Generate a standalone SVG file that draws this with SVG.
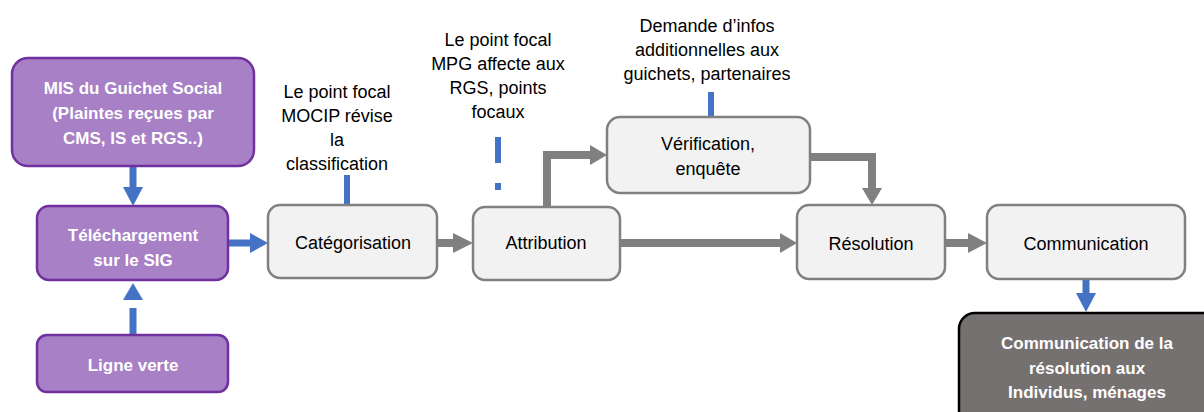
<svg xmlns="http://www.w3.org/2000/svg" width="1204" height="412" viewBox="0 0 1204 412">
<style>
.pbox{fill:#A780C5;stroke:#7030A0;stroke-width:2.5}
.gbox{fill:#F2F2F2;stroke:#808080;stroke-width:2.5}
.dbox{fill:#767171;stroke:#000;stroke-width:2.5}
.wt{font-family:"Liberation Sans",Arial,sans-serif;font-weight:bold;font-size:17px;fill:#fff;text-anchor:middle}
.bt{font-family:"Liberation Sans",Arial,sans-serif;font-size:18px;fill:#000;text-anchor:middle}
.lt{font-family:"Liberation Sans",Arial,sans-serif;font-size:17px;fill:#000;text-anchor:middle}
.bl{stroke:#4472C4;stroke-width:7;fill:none}
.blh{fill:#4472C4}
.gl{stroke:#808080;stroke-width:8;fill:none}
.glh{fill:#808080}
</style>
<rect width="1204" height="412" fill="#fff"/>
<g id="connectors">
<line class="bl" x1="133" y1="166" x2="133" y2="189"/>
<polygon class="blh" points="123,187 143,187 133,206"/>
<line class="bl" x1="133" y1="335" x2="133" y2="308"/>
<polygon class="blh" points="123,300 143,300 133,283"/>
<line class="bl" x1="228" y1="243" x2="252" y2="243"/>
<polygon class="blh" points="250,233 250,253 268,243"/>
<line class="bl" x1="347" y1="175" x2="347" y2="205" style="stroke-width:6"/>
<rect class="blh" x="495" y="137" width="6" height="26"/>
<rect class="blh" x="495" y="183" width="6" height="7"/>
<line class="bl" x1="711" y1="92" x2="711" y2="117" style="stroke-width:6"/>
<line class="bl" x1="1086" y1="279" x2="1086" y2="295"/>
<polygon class="blh" points="1076,293 1096,293 1086,312"/>
<line class="gl" x1="437" y1="243" x2="455" y2="243"/>
<polygon class="glh" points="453,233 453,253 473,243"/>
<path class="gl" d="M547 207 V155 H592"/>
<polygon class="glh" points="590,145 590,165 607,155"/>
<line class="gl" x1="620" y1="243" x2="782" y2="243"/>
<polygon class="glh" points="780,233 780,253 797,243"/>
<path class="gl" d="M810 157 H872 V190"/>
<polygon class="glh" points="862,188 882,188 872,205"/>
<line class="gl" x1="945" y1="243" x2="970" y2="243"/>
<polygon class="glh" points="968,233 968,253 987,243"/>
</g>
<g id="mis">
<rect class="pbox" x="12" y="58" width="242" height="108" rx="16"/>
<text class="wt" x="133" y="94">MIS du Guichet Social</text>
<text class="wt" x="133" y="119">(Plaintes reçues par</text>
<text class="wt" x="133" y="144">CMS, IS et RGS..)</text>
</g>
<g id="telechargement">
<rect class="pbox" x="37" y="206" width="191" height="74" rx="12"/>
<text class="wt" x="133" y="241">Téléchargement</text>
<text class="wt" x="133" y="266">sur le SIG</text>
</g>
<g id="ligne-verte">
<rect class="pbox" x="37" y="335" width="191" height="57" rx="10"/>
<text class="wt" x="133" y="371">Ligne verte</text>
</g>
<g id="categorisation">
<rect class="gbox" x="268" y="205" width="169" height="73" rx="12"/>
<text class="bt" x="353" y="249">Catégorisation</text>
</g>
<g id="note-mocip">
<text class="bt" x="337" y="98">Le point focal</text>
<text class="bt" x="337" y="122">MOCIP révise</text>
<text class="bt" x="337" y="146">la</text>
<text class="bt" x="337" y="170">classification</text>
</g>
<g id="attribution">
<rect class="gbox" x="473" y="207" width="147" height="73" rx="12"/>
<text class="bt" x="546" y="249">Attribution</text>
</g>
<g id="note-mpg">
<text class="bt" x="498" y="46">Le point focal</text>
<text class="bt" x="498" y="70">MPG affecte aux</text>
<text class="bt" x="498" y="94">RGS, points</text>
<text class="bt" x="498" y="118">focaux</text>
</g>
<g id="verification">
<rect class="gbox" x="607" y="117" width="203" height="76" rx="13"/>
<text class="bt" x="708" y="150">Vérification,</text>
<text class="bt" x="708" y="175">enquête</text>
</g>
<g id="note-demande">
<text class="bt" x="707" y="32">Demande d’infos</text>
<text class="bt" x="707" y="56">additionnelles aux</text>
<text class="bt" x="707" y="80">guichets, partenaires</text>
</g>
<g id="resolution">
<rect class="gbox" x="797" y="205" width="148" height="74" rx="12"/>
<text class="bt" x="871" y="250">Résolution</text>
</g>
<g id="communication">
<rect class="gbox" x="987" y="205" width="198" height="74" rx="12"/>
<text class="bt" x="1086" y="250">Communication</text>
</g>
<g id="communication-resolution">
<rect class="dbox" x="959" y="313" width="260" height="120" rx="16"/>
<text class="wt" x="1087" y="349">Communication de la</text>
<text class="wt" x="1087" y="374">résolution aux</text>
<text class="wt" x="1087" y="398">Individus, ménages</text>
</g>
</svg>
